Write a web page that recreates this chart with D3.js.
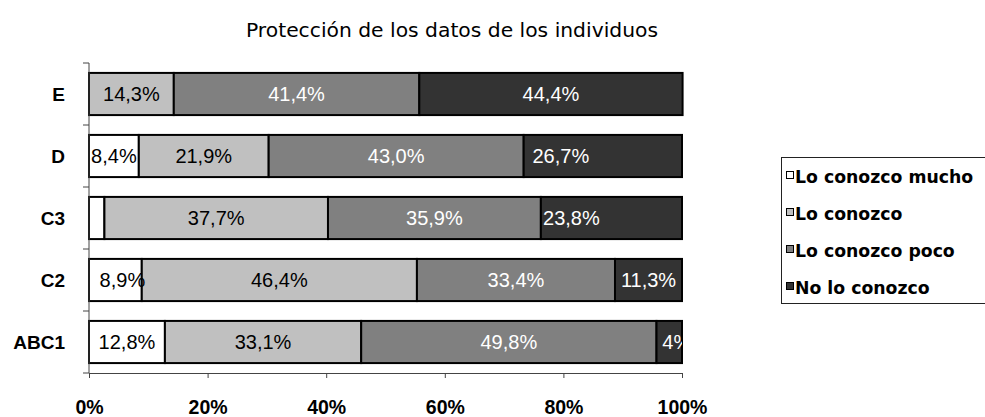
<html>
<head>
  <meta charset="utf-8">
  <script src="https://d3js.org/d3.v7.min.js"></script>
  <style>
    body { margin: 0; background: #fff; }
  </style>
</head>
<body>
<svg id="chart" width="985" height="417"></svg>
<script>
// data
var categories = ['E', 'D', 'C3', 'C2', 'ABC1']
var seriesNames = ['Lo conozco mucho', 'Lo conozco', 'Lo conozco poco', 'No lo conozco']
var mucho = [0, 8.4, 2.6, 8.9, 12.8]
var conozco = [14.3, 21.9, 37.7, 46.4, 33.1]
var poco = [41.4, 43.0, 35.9, 33.4, 49.8]
var noConozco = [44.4, 26.7, 23.8, 11.3, 4.3]
var xTicks = [0, 20, 40, 60, 80, 100]
var title = 'Protección de los datos de los individuos'

var colors = ['#ffffff', '#c0c0c0', '#808080', '#333333']
var textColors = ['#000', '#000', '#fff', '#fff']

var rows = categories.map(function (c, i) {
  return { cat: c, s0: mucho[i], s1: conozco[i], s2: poco[i], s3: noConozco[i] }
})
var keys = ['s0', 's1', 's2', 's3']
var stacked = d3.stack().keys(keys)(rows)

var svg = d3.select('#chart')
var plot = { left: 89, right: 682, top: 63, bottom: 373 }

var x = d3.scaleLinear().domain([0, 100]).range([plot.left, plot.right])
var y = d3.scaleBand().domain(categories).range([plot.top, plot.bottom])
  .paddingInner(0.32).paddingOuter(0.16)

svg.append('defs').append('clipPath').attr('id', 'plotclip')
  .append('rect')
  .attr('x', plot.left).attr('y', plot.top)
  .attr('width', plot.right - plot.left).attr('height', plot.bottom - plot.top)

// title
svg.append('text')
  .attr('x', 452).attr('y', 37)
  .attr('text-anchor', 'middle')
  .attr('font-family', 'DejaVu Sans')
  .attr('font-size', 20.3)
  .text(title)

// bars
var layer = svg.append('g').selectAll('g.layer')
  .data(stacked)
  .enter().append('g')
  .attr('class', 'layer')
  .attr('fill', function (d, i) { return colors[i] })

layer.selectAll('rect')
  .data(function (d) { return d })
  .enter().append('rect')
  .filter(function (d) { return d[1] - d[0] > 0 })
  .attr('x', function (d) { return x(d[0]) })
  .attr('y', function (d) { return y(d.data.cat) })
  .attr('width', function (d) { return x(d[1]) - x(d[0]) })
  .attr('height', y.bandwidth())
  .attr('stroke', '#000')
  .attr('stroke-width', 2)

// labels (some were moved by hand in the original)
var nudge = { 'D|3': -42, 'C3|3': -40, 'ABC1|3': 7.5, 'C2|0': 7 }
function fmt (v) {
  if (v < 5) return Math.round(v) + '%'
  return d3.format('.1f')(v).replace('.', ',') + '%'
}
var labels = svg.append('g').attr('clip-path', 'url(#plotclip)')
stacked.forEach(function (s, si) {
  s.forEach(function (d) {
    var v = d[1] - d[0]
    if (v < 3) return
    var k = d.data.cat + '|' + si
    labels.append('text')
      .attr('x', (x(d[0]) + x(d[1])) / 2 + (nudge[k] || 0))
      .attr('y', y(d.data.cat) + y.bandwidth() / 2)
      .attr('dy', '0.36em')
      .attr('text-anchor', 'middle')
      .attr('font-family', 'Liberation Sans, Arial')
      .attr('font-size', 20)
      .attr('fill', textColors[si])
      .text(fmt(v))
  })
})

// y axis
var yAxisG = svg.append('g')
yAxisG.append('line')
  .attr('x1', plot.left).attr('x2', plot.left)
  .attr('y1', plot.top).attr('y2', plot.bottom)
  .attr('stroke', '#444')
var bounds = categories.map(function (c) { return y(c) - y.step() * y.paddingInner() / 2 })
bounds.push(plot.bottom)
bounds[0] = plot.top
yAxisG.selectAll('.ytick').data(bounds).enter().append('line')
  .attr('x1', plot.left - 6).attr('x2', plot.left)
  .attr('y1', function (d) { return d }).attr('y2', function (d) { return d })
  .attr('stroke', '#444')
yAxisG.selectAll('.ylab').data(categories).enter().append('text')
  .attr('x', 65)
  .attr('y', function (d) { return y(d) + y.bandwidth() / 2 })
  .attr('dy', '0.36em')
  .attr('text-anchor', 'end')
  .attr('font-family', 'Liberation Sans, Arial')
  .attr('font-weight', 'bold')
  .attr('font-size', 19)
  .text(function (d) { return d })

// x axis
var xAxis = d3.axisBottom(x).tickValues(xTicks).tickSize(5).tickPadding(22)
  .tickFormat(function (d) { return d + '%' })
var xg = svg.append('g').attr('transform', 'translate(0,' + plot.bottom + ')').call(xAxis)
xg.select('.domain').attr('stroke', '#444')
xg.selectAll('.tick line').attr('stroke', '#444')
xg.selectAll('.tick text')
  .attr('font-family', 'Liberation Sans, Arial')
  .attr('font-weight', 'bold')
  .attr('font-size', 19.5)
  .attr('fill', '#000')

// legend
var legend = svg.append('g')
legend.append('rect')
  .attr('x', 781.5).attr('y', 157.5)
  .attr('width', 220).attr('height', 146)
  .attr('fill', '#fff').attr('stroke', '#222')
var item = legend.selectAll('.item').data(seriesNames).enter().append('g')
  .attr('transform', function (d, i) { return 'translate(0,' + (183 + i * 37) + ')' })
item.append('rect')
  .attr('x', 786.5).attr('y', -11.5)
  .attr('width', 7).attr('height', 7)
  .attr('fill', function (d, i) { return colors[i] })
  .attr('stroke', '#000')
item.append('text')
  .attr('x', 795)
  .attr('font-family', 'DejaVu Sans')
  .attr('font-weight', 'bold')
  .attr('font-size', 17.3)
  .text(function (d) { return d })
</script>
</body>
</html>
